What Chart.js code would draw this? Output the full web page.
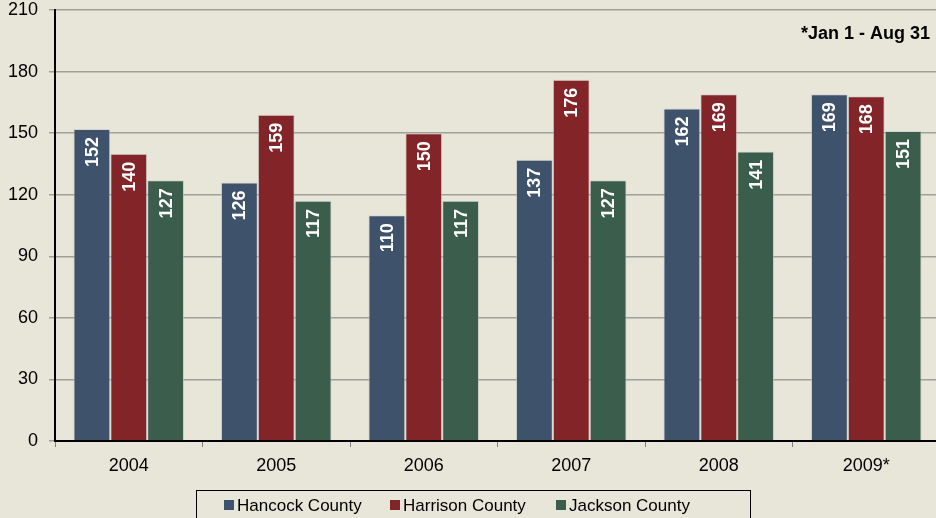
<!DOCTYPE html>
<html>
<head>
<meta charset="utf-8">
<script src="https://cdn.jsdelivr.net/npm/chart.js@4/dist/chart.umd.min.js"></script>
<style>
html,body{margin:0;padding:0;background:#E8E6D9;overflow:hidden;}
#wrap{position:relative;width:940px;height:518px;}
</style>
</head>
<body>
<div id="wrap"><canvas id="c" width="940" height="518"></canvas></div>
<script>
const categories = ['2004','2005','2006','2007','2008','2009*'];
const hancock  = [152,126,110,137,162,169];
const harrison = [140,159,150,176,169,168];
const jackson  = [127,117,117,127,141,151];
const seriesNames = ['Hancock County','Harrison County','Jackson County'];
const yTicks = [0,30,60,90,120,150,180,210];
const note = '*Jan 1 - Aug 31';

const colors = ['#3F526C','#832528','#3A5D4C'];
const FONT = 'Liberation Sans, Arial, sans-serif';

const barLabels = {
  id:'barLabels',
  afterDatasetsDraw(chart){
    const ctx = chart.ctx;
    ctx.save();
    ctx.fillStyle = '#ffffff';
    ctx.font = 'bold 18px ' + FONT;
    ctx.textAlign = 'right';
    ctx.textBaseline = 'middle';
    chart.data.datasets.forEach((ds,i)=>{
      const meta = chart.getDatasetMeta(i);
      meta.data.forEach((bar,j)=>{
        ctx.save();
        ctx.translate(bar.x + 1, bar.y + 8);
        ctx.rotate(-Math.PI/2);
        ctx.fillText(String(ds.data[j]), 0, 0);
        ctx.restore();
      });
    });
    ctx.restore();
  }
};

const extras = {
  id:'extras',
  afterDraw(chart){
    const ctx = chart.ctx;
    ctx.save();
    ctx.fillStyle = '#000';
    ctx.font = 'bold 18px ' + FONT;
    ctx.textAlign = 'right';
    ctx.textBaseline = 'middle';
    ctx.fillText(note, 930, 34);
    ctx.strokeStyle = '#000';
    ctx.lineWidth = 1;
    ctx.strokeRect(196.5, 490.5, 554, 40);
    ctx.font = '17px ' + FONT;
    ctx.textAlign = 'left';
    const xs = [224, 390, 556];
    chart.data.datasets.forEach((ds,i)=>{
      ctx.fillStyle = ds.backgroundColor;
      ctx.fillRect(xs[i], 500, 10, 10);
      ctx.fillStyle = '#000';
      ctx.fillText(ds.label, xs[i]+13, 506);
    });
    ctx.restore();
  }
};

new Chart(document.getElementById('c'), {
  type:'bar',
  data:{
    labels: categories,
    datasets:[
      {label:seriesNames[0], data:hancock, backgroundColor:colors[0]},
      {label:seriesNames[1], data:harrison, backgroundColor:colors[1]},
      {label:seriesNames[2], data:jackson, backgroundColor:colors[2]}
    ].map(d=>Object.assign(d,{borderColor:'rgba(200,200,200,0.6)',borderWidth:1,borderSkipped:'bottom',barPercentage:1,categoryPercentage:0.75}))
  },
  options:{
    responsive:false,
    animation:false,
    layout:{padding:{top:10,left:0,right:0,bottom:0}},
    plugins:{legend:{display:false},tooltip:{enabled:false}},
    scales:{
      x:{
        grid:{drawOnChartArea:false, drawTicks:true, tickLength:6, color:'#808080'},
        border:{color:'#000', width:2},
        ticks:{color:'#000', font:{family:FONT,size:18}, padding:8, maxRotation:0},
        afterFit(s){ s.height = 77; s.paddingLeft = 0; s.paddingRight = 0; }
      },
      y:{
        min:0,max:210,
        afterBuildTicks(s){ s.ticks = yTicks.map(v=>({value:v})); },
        grid:{color:'#A0A09A', tickLength:6, lineWidth:1.5},
        border:{color:'#000', width:2},
        ticks:{color:'#000', font:{family:FONT,size:18}, padding:11},
        afterFit(s){ s.width = 55; s.paddingTop = 0; s.paddingBottom = 0; }
      }
    }
  },
  plugins:[barLabels, extras]
});
</script>
</body>
</html>
